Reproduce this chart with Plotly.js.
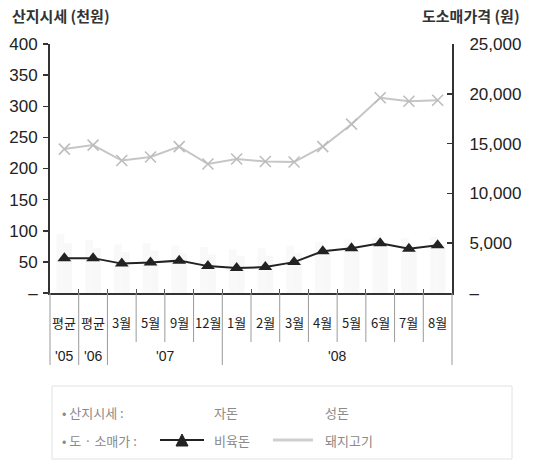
<!DOCTYPE html>
<html><head><meta charset="utf-8">
<script src="https://cdn.plot.ly/plotly-3.0.1.min.js"></script>
<style>html,body{margin:0;padding:0;background:#fff;}#chart{width:535px;height:462px;}</style>
</head><body><div id="chart"></div>
<script>
// ---- data ----
const monthLabels = ['평균','평균','3월','5월','9월','12월','1월','2월','3월','4월','5월','6월','7월','8월'];
const yearLabels = ["'05","'06","'07","'08"];
const yearCenters = [0, 1, 3.5, 9.5];
// 도·소매가 (원) - right axis
const biyukdon = [3500,3500,2950,3050,3250,2700,2500,2600,3100,4200,4500,5000,4450,4800];
const porkMeat = [14450,14850,13300,13650,14700,12950,13450,13200,13150,14700,16950,19600,19250,19350];
// 산지시세 (천원) - left axis, almost erased in the reference (faint traces)
const jadon = [95,85,78,80,76,74,70,72,76,82,86,90,88,90];
const seongdon = [80,72,66,68,64,62,60,60,64,70,74,78,76,78];
const leftTicks = [0,50,100,150,200,250,300,350,400];
const leftTickText = ['–','50','100','150','200','250','300','350','400'];
const rightTicks = [0,5000,10000,15000,20000,25000];
const rightTickText = ['–','5,000','10,000','15,000','20,000','25,000'];

const x = monthLabels.map((_, i) => i);
const W = 535, H = 462, L = 50, R = 452, T = 44, B = 293;
const px = v => (v - L) / (R - L);
const py = v => (B - v) / (B - T);
const FONT = 'Liberation Sans, Arial, Noto Sans CJK KR, sans-serif';
const KFONT = 'Noto Sans CJK KR, sans-serif';

const traces = [
  {type:'bar', x:x, y:jadon, name:'자돈', marker:{color:'#f9f9f9'}, yaxis:'y', hoverinfo:'skip'},
  {type:'bar', x:x, y:seongdon, name:'성돈', marker:{color:'#f8f8f8'}, yaxis:'y', hoverinfo:'skip'},
  {type:'scatter', mode:'lines+markers', x:x, y:porkMeat, name:'돼지고기', yaxis:'y2',
   line:{color:'#c6c6c6', width:2}, marker:{symbol:'x-thin', size:11, line:{color:'#bdbdbd', width:1.6}}},
  {type:'scatter', mode:'lines+markers', x:x, y:biyukdon, name:'비육돈', yaxis:'y2',
   line:{color:'#222', width:2}, marker:{symbol:'triangle-up', size:12, color:'#222'}}
];

const shapes = [];
const annotations = [];
// divider lines below x axis
for (let i = 0; i <= 14; i++) {
  const long = [0,1,2,6,14].includes(i);
  shapes.push({type:'line', xref:'paper', yref:'paper', x0:i/14, x1:i/14, y0:0, y1:py(long ? 365 : 342),
    line:{color:'#9a9a9a', width:1}});
}
monthLabels.forEach((t, i) => annotations.push({xref:'x', yref:'paper', x:i, y:py(322), text:t, showarrow:false,
  font:{family:KFONT, size:13, color:'#222'}, xanchor:'center', yanchor:'middle'}));
yearLabels.forEach((t, i) => annotations.push({xref:'x', yref:'paper', x:yearCenters[i], y:py(356), text:t, showarrow:false,
  font:{family:FONT, size:14, color:'#222'}, xanchor:'center', yanchor:'middle'}));
// axis titles
annotations.push({xref:'paper', yref:'paper', x:px(10), y:py(15), text:'<b>산지시세 (천원)</b>', showarrow:false,
  xanchor:'left', yanchor:'middle', font:{family:KFONT, size:15, color:'#333'}});
annotations.push({xref:'paper', yref:'paper', x:px(522), y:py(15), text:'<b>도소매가격 (원)</b>', showarrow:false,
  xanchor:'right', yanchor:'middle', font:{family:KFONT, size:15, color:'#333'}});
// legend box
shapes.push({type:'rect', xref:'paper', yref:'paper', x0:px(52), x1:px(512), y0:py(386), y1:py(459),
  line:{color:'#e2e2e2', width:1}, fillcolor:'rgba(0,0,0,0)'});
const lg = (t, xx, yy, anchor) => annotations.push({xref:'paper', yref:'paper', x:px(xx), y:py(yy), text:t, showarrow:false,
  xanchor:anchor || 'left', yanchor:'middle', font:{family:KFONT, size:13, color:'#8a8a8a'}});
lg('• 산지시세 :', 60, 412);
lg('자돈', 212, 412);
lg('성돈', 323, 412);
lg('• 도 · 소매가 :', 60, 440);
lg('비육돈', 212, 440);
lg('돼지고기', 323, 440);
shapes.push({type:'line', xref:'paper', yref:'paper', x0:px(160), x1:px(204), y0:py(440), y1:py(440), line:{color:'#222', width:2}});
shapes.push({type:'path', xref:'paper', yref:'paper',
  path:`M ${px(176)} ${py(446)} L ${px(188)} ${py(446)} L ${px(182)} ${py(434)} Z`, fillcolor:'#222', line:{color:'#222', width:1}});
shapes.push({type:'line', xref:'paper', yref:'paper', x0:px(273), x1:px(313), y0:py(440), y1:py(440), line:{color:'#cfcfcf', width:3}});

const layout = {
  width:W, height:H, margin:{l:L, r:W-R, t:T, b:H-B, pad:0},
  paper_bgcolor:'#fff', plot_bgcolor:'#fff', showlegend:false,
  barmode:'group', bargap:0.45, bargroupgap:0,
  xaxis:{range:[-0.5,13.5], showgrid:false, zeroline:false, showline:true, linecolor:'#333', linewidth:2,
    tickvals:x.slice(0,13).map(v=>v+0.5), ticks:'inside', ticklen:4, tickcolor:'#555', showticklabels:false},
  yaxis:{range:[0,400], showgrid:false, zeroline:false, showline:true, linecolor:'#333', linewidth:2,
    tickvals:leftTicks, ticktext:leftTickText, ticks:'outside', ticklen:5, tickwidth:1.5, tickcolor:'#333',
    tickfont:{family:FONT, size:17, color:'#222'}, ticklabelstandoff:2},
  yaxis2:{range:[0,25000], overlaying:'y', side:'right', showgrid:false, zeroline:false, showline:true,
    linecolor:'#333', linewidth:2, tickvals:rightTicks, ticktext:rightTickText, ticks:'inside', ticklen:5,
    tickwidth:1.5, tickcolor:'#333', tickfont:{family:FONT, size:17, color:'#222'}, ticklabelstandoff:12},
  shapes:shapes, annotations:annotations
};
Plotly.newPlot('chart', traces, layout, {displayModeBar:false, staticPlot:true});
</script></body></html>
